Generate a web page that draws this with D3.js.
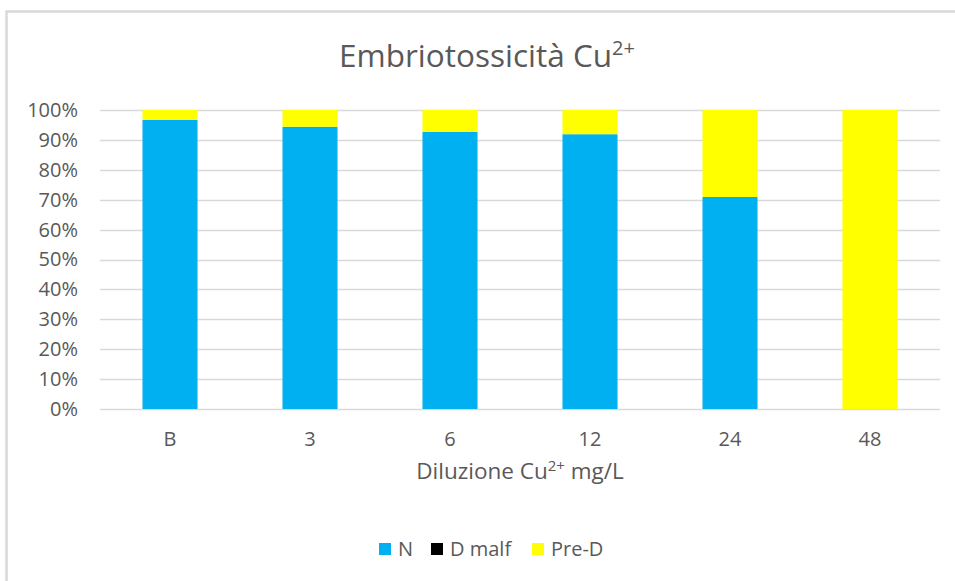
<!DOCTYPE html>
<html>
<head>
<meta charset="utf-8">
<script src="https://cdn.jsdelivr.net/npm/d3@7"></script>
<style>
  body { margin: 0; background: #fff; }
  svg { font-family: "Open Sans", "Noto Sans", sans-serif; }
</style>
</head>
<body>
<svg width="955" height="581"></svg>
<script>
var svg = d3.select("svg"),
    width = +svg.attr("width"),
    height = +svg.attr("height");

// data
var categories = ["B", "3", "6", "12", "24", "48"];
var seriesNames = ["N", "D malf", "Pre-D"];
var valN     = [0.967, 0.944, 0.927, 0.919, 0.709, 0];
var valDmalf = [0, 0, 0, 0, 0, 0];
var valPreD  = [0.033, 0.056, 0.073, 0.081, 0.291, 1];
var colors = ["#00b0f0", "#000000", "#ffff00"];
var tickValues = [0, 0.1, 0.2, 0.3, 0.4, 0.5, 0.6, 0.7, 0.8, 0.9, 1];

var rows = categories.map(function(c, i) {
  return {cat: c, "N": valN[i], "D malf": valDmalf[i], "Pre-D": valPreD[i]};
});

var margin = {left: 100, right: 15, top: 110, bottom: 172};

// chart frame
svg.append("rect")
    .attr("x", 6.5).attr("y", 11.5)
    .attr("width", 960).attr("height", 600)
    .attr("fill", "none")
    .attr("stroke", "#d9d9d9")
    .attr("stroke-width", 2.5);

var x = d3.scaleBand()
    .domain(categories)
    .range([margin.left, width - margin.right])
    .paddingInner(0.607)
    .paddingOuter(0.3035);

var y = d3.scaleLinear()
    .domain([0, 1])
    .range([409, 110]);

// gridlines
svg.append("g")
    .selectAll("line")
    .data(tickValues)
    .enter().append("line")
      .attr("x1", margin.left)
      .attr("x2", width - margin.right)
      .attr("y1", function(d) { return Math.round(y(d)) + 0.5; })
      .attr("y2", function(d) { return Math.round(y(d)) + 0.5; })
      .attr("stroke", "#d9d9d9")
      .attr("stroke-width", 1.5);

var stack = d3.stack().keys(seriesNames);
var layers = stack(rows);

svg.append("g")
    .selectAll("g")
    .data(layers)
    .enter().append("g")
      .attr("fill", function(d, i) { return colors[i]; })
    .selectAll("rect")
    .data(function(d) { return d; })
    .enter().append("rect")
      .attr("x", function(d) { return x(d.data.cat); })
      .attr("width", x.bandwidth())
      .attr("y", function(d) { return y(d[1]); })
      .attr("height", function(d) { return y(d[0]) - y(d[1]); });

// y axis labels
var yAxis = d3.axisLeft(y)
    .tickValues(tickValues)
    .tickFormat(d3.format(".0%"))
    .tickSize(0)
    .tickPadding(0);

svg.append("g")
    .attr("transform", "translate(78,0)")
    .call(yAxis)
    .call(function(g) { g.select(".domain").remove(); })
    .selectAll("text")
      .attr("font-size", 20)
      .attr("font-family", "Open Sans, Noto Sans, sans-serif")
      .attr("fill", "#595959");

// x axis labels
var xAxis = d3.axisBottom(x).tickSize(0).tickPadding(0);
svg.append("g")
    .attr("transform", "translate(0,432)")
    .call(xAxis)
    .call(function(g) { g.select(".domain").remove(); })
    .selectAll("text")
      .attr("font-size", 20)
      .attr("font-family", "Open Sans, Noto Sans, sans-serif")
      .attr("fill", "#595959");

// title
var title = svg.append("text")
    .attr("x", 487)
    .attr("y", 67)
    .attr("text-anchor", "middle")
    .attr("font-size", 31.5)
    .attr("fill", "#595959");
title.append("tspan").text("Embriotossicità Cu");
title.append("tspan").attr("dy", -12).attr("font-size", 20).text("2+");

// x axis title
var xt = svg.append("text")
    .attr("x", 520)
    .attr("y", 479)
    .attr("text-anchor", "middle")
    .attr("font-size", 22.5)
    .attr("fill", "#595959");
xt.append("tspan").text("Diluzione Cu");
xt.append("tspan").attr("dy", -8).attr("font-size", 15).text("2+");
xt.append("tspan").attr("dy", 8).text(" mg/L");

// legend
var legendX = [379, 431, 532];
var legend = svg.append("g")
    .selectAll("g")
    .data(seriesNames)
    .enter().append("g")
      .attr("transform", function(d, i) { return "translate(" + legendX[i] + ",543)"; });

legend.append("rect")
    .attr("width", 12).attr("height", 12)
    .attr("fill", function(d, i) { return colors[i]; });

legend.append("text")
    .attr("x", 19)
    .attr("y", 6)
    .attr("dy", "0.35em")
    .attr("font-size", 20)
    .attr("fill", "#595959")
    .text(function(d) { return d; });
</script>
</body>
</html>
